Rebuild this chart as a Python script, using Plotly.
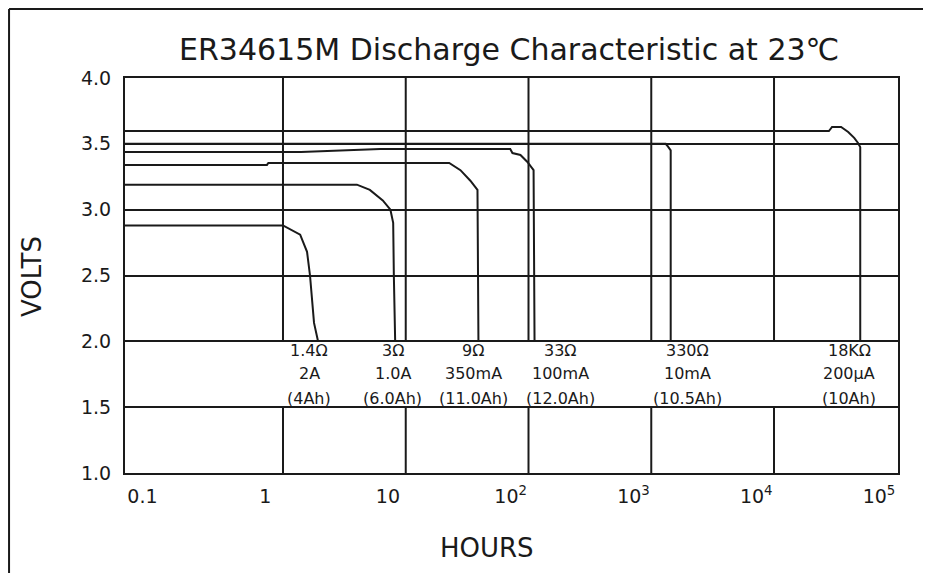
import numpy as np
import plotly.graph_objects as go

# ---------------- data ----------------
TITLE = "ER34615M Discharge Characteristic at 23℃"
X_TITLE = "HOURS"
Y_TITLE = "VOLTS"

hours_2A = [0.05, 1.0, 1.38, 1.57, 1.66, 1.79, 1.93]
volts_2A = [2.88, 2.88, 2.81, 2.68, 2.50, 2.14, 2.0]

hours_1A = [0.05, 4.0, 5.1, 6.5, 7.5, 7.9, 8.0, 8.2]
volts_1A = [3.19, 3.19, 3.15, 3.07, 3.0, 2.90, 2.50, 2.0]

hours_350mA = [0.05, 0.74, 0.76, 22.6, 27.9, 33.6, 38.4, 39.1]
volts_350mA = [3.34, 3.34, 3.355, 3.355, 3.30, 3.22, 3.15, 2.0]

hours_100mA = [0.05, 1.4, 6.2, 71, 74, 86, 98, 110, 112]
volts_100mA = [3.438, 3.438, 3.461, 3.461, 3.43, 3.415, 3.362, 3.30, 2.0]

hours_10mA = [0.05, 1310, 1365, 1440, 1440]
volts_10mA = [3.50, 3.50, 3.48, 3.45, 2.0]

hours_200uA = [0.05, 28000, 29700, 35200, 40200, 45000, 48500, 50400, 50400]
volts_200uA = [3.597, 3.597, 3.628, 3.628, 3.59, 3.545, 3.505, 3.475, 2.0]

label_resistance = ["1.4Ω", "3Ω", "9Ω", "33Ω", "330Ω", "18KΩ"]
label_current = ["2A", "1.0A", "350mA", "100mA", "10mA", "200µA"]
label_capacity = ["(4Ah)", "(6.0Ah)", "(11.0Ah)", "(12.0Ah)", "(10.5Ah)", "(10Ah)"]

x_tick_values = [0.1, 1, 10, 100, 1000, 10000, 100000]
x_tick_text = ["0.1", "1", "10", "10<sup>2</sup>", "10<sup>3</sup>", "10<sup>4</sup>", "10<sup>5</sup>"]
y_tick_values = [1.0, 1.5, 2.0, 2.5, 3.0, 3.5, 4.0]
grid_decades = [1, 10, 100, 1000, 10000]

# ---------------- positions / styles ----------------
label_hours = [1.63, 7.8, 35.6, 182, 1986, 40900]
label_rows_v = [1.93, 1.755, 1.565]
X_RANGE = [-1.287, 5.01]
TICK_SHIFT = 0.145
INK = "#1a1a1a"
FONT = "DejaVu Sans"

fig = go.Figure()

# vertical grid segments (upper and lower sections, gap in the label band)
gx, gy = [], []
for d in grid_decades:
    gx += [d, d, None, d, d, None]
    gy += [2.0, 4.0, None, 1.0, 1.5, None]
fig.add_trace(go.Scatter(x=gx, y=gy, mode="lines", line=dict(color=INK, width=2),
                         hoverinfo="skip", showlegend=False))

curves = [(hours_2A, volts_2A), (hours_1A, volts_1A), (hours_350mA, volts_350mA),
          (hours_100mA, volts_100mA), (hours_10mA, volts_10mA), (hours_200uA, volts_200uA)]
names = [r + " " + c for r, c in zip(label_resistance, label_current)]
for (h, v), n in zip(curves, names):
    fig.add_trace(go.Scatter(x=h, y=v, mode="lines", name=n,
                             line=dict(color=INK, width=2), showlegend=False))

# invisible trace to carry the shifted tick-label axis
fig.add_trace(go.Scatter(x=[x_tick_values[0], x_tick_values[-1]], y=[1, 1], xaxis="x2",
                         mode="lines", line=dict(width=0), hoverinfo="skip", showlegend=False))

annotations = []
for i in range(len(label_hours)):
    for row, txt in zip(label_rows_v, [label_resistance[i], label_current[i], label_capacity[i]]):
        annotations.append(dict(x=np.log10(label_hours[i]), y=row, xref="x", yref="y",
                                text=txt, showarrow=False,
                                font=dict(family=FONT, size=16, color=INK),
                                xanchor="center", yanchor="middle"))

annotations.append(dict(x=-0.1203, y=0.496, xref="paper", yref="paper", text=Y_TITLE,
                        textangle=-90, showarrow=False,
                        font=dict(family=FONT, size=26, color=INK),
                        xanchor="center", yanchor="middle"))
annotations.append(dict(x=0.468, y=-0.190, xref="paper", yref="paper", text=X_TITLE,
                        showarrow=False, font=dict(family=FONT, size=26, color=INK),
                        xanchor="center", yanchor="middle"))

shapes = [
    dict(type="line", xref="paper", yref="paper", x0=-0.150, x1=-0.150, y0=1.1747, y1=-0.26,
         line=dict(color=INK, width=2)),
    dict(type="line", xref="paper", yref="paper", x0=-0.150, x1=1.06, y0=1.1747, y1=1.1747,
         line=dict(color=INK, width=2)),
]

fig.update_layout(
    width=923, height=565,
    margin=dict(l=117, r=33, t=70, b=100),
    paper_bgcolor="white", plot_bgcolor="white",
    title=dict(text=TITLE, x=0.497, xref="paper", y=0.9257, yref="container",
               xanchor="center", yanchor="middle",
               font=dict(family=FONT, size=30, color=INK)),
    xaxis=dict(type="log", range=X_RANGE, showgrid=False, zeroline=False,
               showticklabels=False, ticks="", showline=True, mirror=True,
               linecolor=INK, linewidth=2),
    xaxis2=dict(type="log", overlaying="x", side="bottom", anchor="y",
                range=[X_RANGE[0] + TICK_SHIFT, X_RANGE[1] + TICK_SHIFT],
                tickvals=x_tick_values, ticktext=x_tick_text, showgrid=False,
                zeroline=False, showline=False, ticks="", ticklabelstandoff=10,
                tickfont=dict(family=FONT, size=19, color=INK)),
    yaxis=dict(range=[1.0, 4.0], tickvals=y_tick_values, tickformat=".1f",
               showgrid=True, gridcolor=INK, gridwidth=2, zeroline=False,
               showline=True, mirror=True, linecolor=INK, linewidth=2,
               ticks="", ticklabelstandoff=8,
               tickfont=dict(family=FONT, size=19, color=INK)),
    annotations=annotations,
    shapes=shapes,
)

fig.write_html("out.html")
